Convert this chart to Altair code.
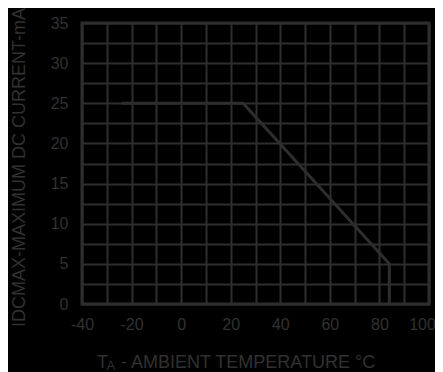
import altair as alt
import pandas as pd

# Derating curve: ambient temperature (°C) vs maximum DC current (mA)
temps = [-24, 25, 84, 84]
current = [25, 25, 5, 0]

x_ticks = list(range(-40, 101, 10))
y_ticks = [i * 2.5 for i in range(15)]

x_title_main = "T"
x_title_sub = "A"
x_title_rest = "- AMBIENT TEMPERATURE °C"
y_title = "IDCMAX-MAXIMUM DC CURRENT-mA"

LINE = "#2e2e2e"
TEXT = "#313131"
FONT = "Liberation Sans"

df = pd.DataFrame({"t": temps, "i": current, "order": list(range(len(temps)))})

x_scale = alt.Scale(domain=[-40, 100], nice=False, zero=False)
y_scale = alt.Scale(domain=[0, 35], nice=False)

base = alt.Chart(df)

curve = base.mark_line(color=LINE, strokeWidth=3, strokeJoin="miter").encode(
    x=alt.X("t:Q", scale=x_scale,
            axis=alt.Axis(values=x_ticks, title=None, grid=True, ticks=False, domain=False,
                          gridColor=LINE, gridWidth=2, gridOpacity=1,
                          labelExpr="datum.value % 20 == 0 ? toString(datum.value) : ''",
                          labelOffset={"expr": "datum.value == 100 ? -7 : 0"},
                          labelOverlap=False, labelFlush=False, labelFont=FONT, labelFontSize=16,
                          labelColor=TEXT, labelPadding=12)),
    y=alt.Y("i:Q", scale=y_scale,
            axis=alt.Axis(values=y_ticks, title=None, grid=True, ticks=False, domain=False,
                          gridColor=LINE, gridWidth=2, gridOpacity=1,
                          labelExpr="datum.value % 5 == 0 ? toString(datum.value) : ''",
                          labelOverlap=False, labelFlush=False, labelFont=FONT, labelFontSize=16,
                          labelColor=TEXT, labelPadding=14)),
    order="order:Q",
)

t_main = alt.Chart(pd.DataFrame({"s": [x_title_main]})).mark_text(
    align="left", baseline="alphabetic", font=FONT, fontSize=18, color=TEXT
).encode(text="s:N", x=alt.value(15), y=alt.value(345))

t_sub = alt.Chart(pd.DataFrame({"s": [x_title_sub]})).mark_text(
    align="left", baseline="alphabetic", font=FONT, fontSize=13, color=TEXT
).encode(text="s:N", x=alt.value(24.5), y=alt.value(347))

t_rest = alt.Chart(pd.DataFrame({"s": [x_title_rest]})).mark_text(
    align="left", baseline="alphabetic", font=FONT, fontSize=18, color=TEXT
).encode(text="s:N", x=alt.value(39), y=alt.value(345))

t_y = alt.Chart(pd.DataFrame({"s": [y_title]})).mark_text(
    align="center", baseline="middle", font=FONT, fontSize=18, color=TEXT, angle=270
).encode(text="s:N", x=alt.value(-62.5), y=alt.value(144.5))

chart = (
    alt.layer(curve, t_main, t_sub, t_rest, t_y)
    .properties(
        width=347, height=281,
        autosize=alt.AutoSizeParams(type="none"),
        padding={"left": 74, "top": 15, "right": 6, "bottom": 68},
        background="black",
    )
    .configure_view(stroke=LINE, strokeWidth=3, fill="black")
)

chart.save("out.html", embed_options={"renderer": "svg", "actions": False})
